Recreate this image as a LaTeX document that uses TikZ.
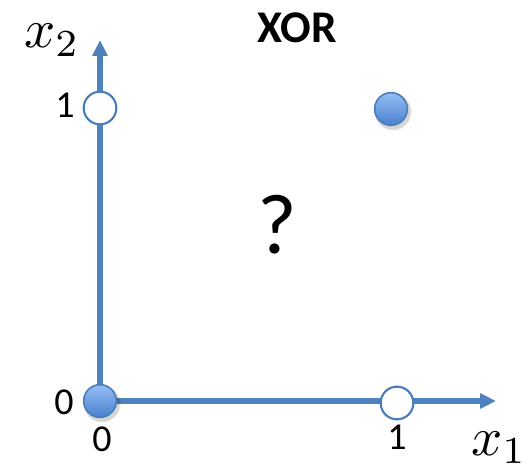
\documentclass[tikz,border=0pt]{standalone}
\usepackage{fontspec}
\setmainfont{Carlito}
\usetikzlibrary{arrows.meta}
\definecolor{axisblue}{RGB}{79,129,189}
\definecolor{ringblue}{RGB}{74,126,187}
\definecolor{toplight}{RGB}{150,190,245}
\definecolor{botdark}{RGB}{72,128,205}
\begin{document}
\begin{tikzpicture}[x=0.75pt,y=-0.75pt,
  axis/.style={draw=axisblue,line width=3.8pt,-{Triangle[length=12pt,width=11pt]}},
  hollowpt/.style={circle,draw=ringblue,line width=1.6pt,fill=white,minimum size=24.5pt,inner sep=0pt},
  filledpt/.style={circle,draw=ringblue,line width=1.2pt,top color=toplight,bottom color=botdark,minimum size=24.5pt,inner sep=0pt},
  shadowpt/.style={circle,fill=black,opacity=0.06,minimum size=#1,inner sep=0pt},
  numlbl/.style={inner sep=0pt,font=\fontsize{28.5}{30}\selectfont},
  varlbl/.style={inner sep=0pt,anchor=base west,scale=4.1}
]
\useasboundingbox (0,0) rectangle (531,466);
\coordinate (o) at (100,401);
\coordinate (ytip) at (100,40);
\coordinate (xtip) at (496,401);
\draw[axis] (o) -- (ytip);
\draw[axis] (o) -- (xtip);
% shadows of filled points
\foreach \s in {28pt,27pt,26pt} {
  \node[shadowpt=\s] at (102,404) {};
  \node[shadowpt=\s] at (393,112) {};
}
\node[hollowpt] (p01) at (100,108) {};
\node[filledpt] (p11) at (391,109) {};
\node[filledpt] (p00) at (100,401) {};
\node[hollowpt] (p10) at (397,403) {};
\node[numlbl] (l0y) at (64,402) {0};
\node[numlbl] (l0x) at (102,439) {0};
\node[numlbl] (l1y) at (65,105) {1};
\node[numlbl] (l1x) at (397,437) {1};
\node[varlbl] (x2) at (23,48) {$x_2$};
\node[varlbl] (x1) at (470,455) {$x_1$};
\node[inner sep=0pt,font=\bfseries\fontsize{34}{36}\selectfont] (title) at (297,28) {XOR};
\node[inner sep=0pt,font=\fontsize{64}{66}\selectfont] (q) at (277,225) {?};
\end{tikzpicture}
\end{document}
